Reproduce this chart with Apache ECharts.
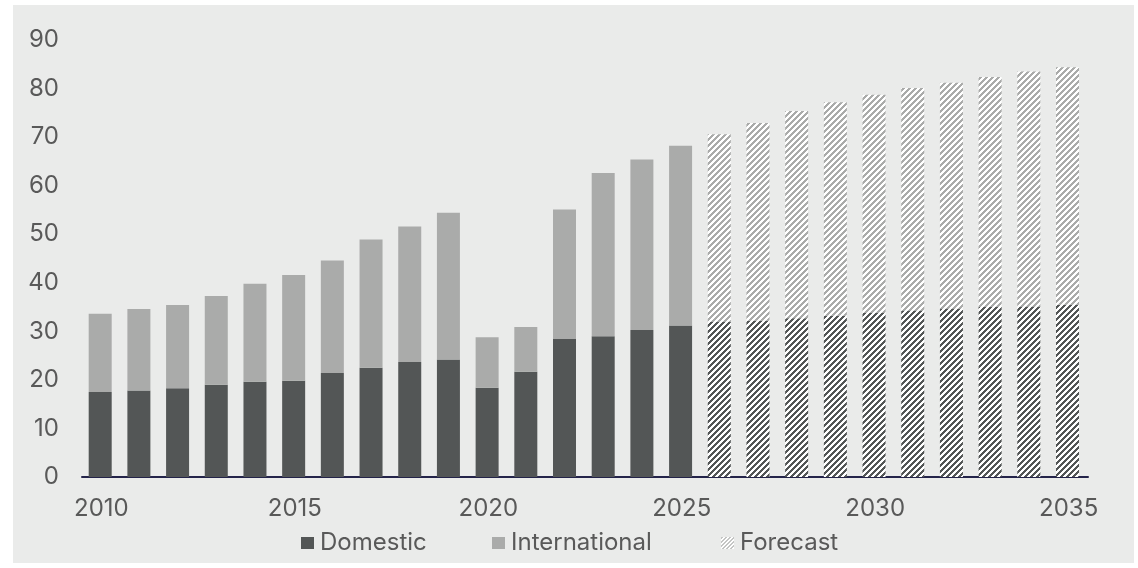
<!DOCTYPE html>
<html>
<head>
<meta charset="utf-8">
<script src="https://cdn.jsdelivr.net/npm/echarts@6/dist/echarts.min.js"></script>
<style>
  html, body { margin: 0; padding: 0; background: #ffffff; }
  #chart { width: 1138px; height: 568px; }
</style>
</head>
<body>
<div id="chart"></div>
<script>
// Years on the category axis
const years = ['2010','2011','2012','2013','2014','2015','2016','2017','2018','2019',
               '2020','2021','2022','2023','2024','2025','2026','2027','2028','2029',
               '2030','2031','2032','2033','2034','2035'];
// First forecast year
const forecastFrom = '2026';
// Domestic volume per year
const domestic = [17.5, 17.8, 18.3, 19.0, 19.6, 19.8, 21.4, 22.5, 23.7, 24.2,
                  18.4, 21.7, 28.4, 29.0, 30.3, 31.2, 31.9, 32.2, 32.7, 33.2,
                  33.8, 34.3, 34.7, 35.0, 35.1, 35.5];
// International volume per year (stacked on top of domestic)
const international = [16.1, 16.8, 17.1, 18.3, 20.2, 21.8, 23.2, 26.4, 27.9, 30.2,
                       10.4, 9.2, 26.7, 33.6, 35.1, 37.0, 38.7, 40.7, 42.7, 44.0,
                       44.9, 45.8, 46.5, 47.4, 48.4, 48.9];
// Value-axis ticks
const yTicks = [0, 10, 20, 30, 40, 50, 60, 70, 80, 90];
// Legend entries
const legendNames = ['Domestic', 'International', 'Forecast'];

const FONT = 'Inter, "Open Sans", sans-serif';
const TEXT = '#595959';
const DOM_COLOR = '#535656';
const INT_COLOR = '#aaabaa';

// Crisp diagonal hatch tile ("/" stripes on white) used for forecast bars
function hatch(color, period, on) {
  const c = document.createElement('canvas');
  c.width = period; c.height = period;
  const g = c.getContext('2d');
  g.fillStyle = '#ffffff';
  g.fillRect(0, 0, period, period);
  g.fillStyle = color;
  for (let y = 0; y < period; y++) {
    for (let x = 0; x < period; x++) {
      if ((x + y) % period < on) g.fillRect(x, y, 1, 1);
    }
  }
  return { image: c, repeat: 'repeat' };
}

const forecastIdx = years.indexOf(forecastFrom);
function withHatch(values, color) {
  const pat = hatch(color, 6, 3);
  return values.map((v, i) => i >= forecastIdx
    ? { value: v, itemStyle: { color: pat } }
    : v);
}

const legendLeft = [301, 492, 721];
const legends = legendNames.map((name, i) => ({
  left: legendLeft[i],
  top: 531,
  icon: 'rect',
  itemWidth: 13,
  itemHeight: 12,
  itemGap: 0,
  padding: 0,
  textStyle: { fontFamily: FONT, fontSize: 24, color: TEXT, padding: [0, 0, 0, 1] },
  data: [name]
}));

const chart = echarts.init(document.getElementById('chart'), null, { renderer: 'canvas' });

chart.setOption({
  backgroundColor: '#ffffff',
  animation: false,
  graphic: [{
    type: 'rect',
    z: -10,
    silent: true,
    shape: { x: 13, y: 5, width: 1121, height: 558 },
    style: { fill: '#eaebea' }
  }],
  grid: { left: 82, right: 50, top: 40, bottom: 91, containLabel: false },
  legend: legends,
  xAxis: {
    type: 'category',
    data: years,
    boundaryGap: true,
    axisLine: { show: true, lineStyle: { color: '#24244a', width: 2 } },
    axisTick: { show: false },
    axisLabel: {
      interval: 4,
      margin: 20,
      fontFamily: FONT,
      fontSize: 24,
      color: TEXT
    },
    splitLine: { show: false }
  },
  yAxis: {
    type: 'value',
    min: yTicks[0],
    max: yTicks[yTicks.length - 1],
    interval: 10,
    axisLine: { show: false },
    axisTick: { show: false },
    splitLine: { show: false },
    axisLabel: {
      margin: 23,
      fontFamily: FONT,
      fontSize: 24,
      color: TEXT
    }
  },
  series: [
    {
      name: legendNames[0],
      type: 'bar',
      stack: 'total',
      barWidth: 23,
      itemStyle: { color: DOM_COLOR },
      data: withHatch(domestic, DOM_COLOR)
    },
    {
      name: legendNames[1],
      type: 'bar',
      stack: 'total',
      barWidth: 23,
      itemStyle: { color: INT_COLOR },
      data: withHatch(international, INT_COLOR)
    },
    {
      name: legendNames[2],
      type: 'bar',
      itemStyle: { color: hatch('#c4c5c4', 4, 2) },
      data: []
    }
  ]
});
</script>
</body>
</html>
